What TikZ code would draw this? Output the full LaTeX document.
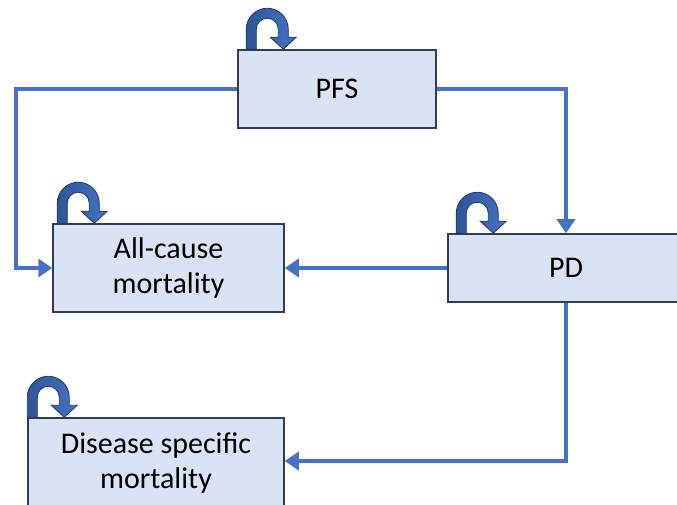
\documentclass[tikz,border=0pt]{standalone}
\usepackage{fontspec}
\setmainfont{Carlito}
\usetikzlibrary{arrows.meta, positioning}

\definecolor{boxfill}{HTML}{DAE3F3}
\definecolor{boxline}{HTML}{2F3B57}
\definecolor{flowblue}{HTML}{4472C4}
\definecolor{loopdark}{HTML}{2F5597}
\definecolor{loopedge}{HTML}{203864}

\tikzset{
    statefont/.style={font=\fontsize{30}{35}\selectfont},
    statebox/.style={draw=boxline, line width=1.5pt, fill=boxfill, align=center,
        inner sep=0pt, statefont},
    flow/.style={draw=flowblue, line width=4.5pt, -{Triangle[length=14pt,width=18pt]}},
    pics/selfloop/.style={code={
        \shadedraw[draw=loopedge, line width=0.8pt, left color=loopdark, right color=flowblue]
            (-5,0) -- (-5,20) arc[start angle=180, end angle=0, x radius=21, y radius=21]
            -- (37,12) -- (45,12) -- (32,0) -- (19,12) -- (27,12) -- (27,20)
            arc[start angle=0, end angle=180, x radius=11, y radius=11] -- (5,0) -- cycle;
    }}
}

\begin{document}
\begin{tikzpicture}[x=1pt, y=1pt]
\useasboundingbox (0,0) rectangle (677,504);
% States
\node[statebox, minimum width=198pt, minimum height=78pt] (pfs) at (337,415) {PFS};
\node[statebox, minimum width=231pt, minimum height=88pt] (acm) at (168.5,236) {All-cause\\mortality};
\node[statebox, minimum width=236pt, minimum height=68pt] (pd) at (566,236) {PD};
\node[statebox, minimum width=256pt, minimum height=102pt] (dsm) at (156,35) {};
\node[statefont, align=center] (dsmtext) at (156,41) {Disease specific\\mortality};

% Self transitions
\pic at ([xshift=14pt]pfs.north west) {selfloop};
\pic at ([xshift=10pt]acm.north west) {selfloop};
\pic at ([xshift=14pt]pd.north west) {selfloop};
\pic at ([xshift=5pt]dsm.north west) {selfloop};

% Transitions
\coordinate (lcorner) at (16,415);
\draw[flow] (pfs.west) -- (lcorner) |- (acm.west);
\draw[flow] (pfs.east) -| (pd.north);
\draw[flow] (pd.west) -- (acm.east);
\draw[flow] (pd.south) |- ([yshift=2pt]dsm.east |- dsmtext.center);
\end{tikzpicture}
\end{document}
